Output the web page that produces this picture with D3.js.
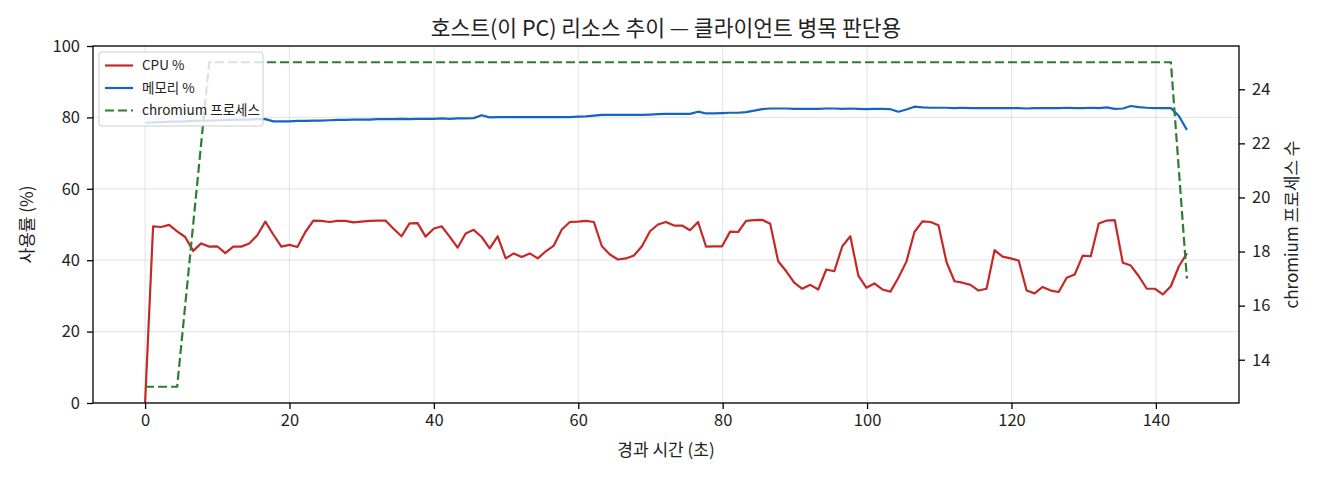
<!DOCTYPE html>
<html>
<head>
<meta charset="utf-8">
<script src="https://cdn.jsdelivr.net/npm/d3@7"></script>
<style>
  body { margin: 0; background: #fff; }
  text { font-family: "Noto Sans CJK KR", "Noto Sans", sans-serif; fill: #222; }
</style>
</head>
<body>
<div id="chart"></div>
<script>
// sampled roughly every 1.11 s
var SAMPLE_SEC = 1.11;

var cpu = [
  0, 49.5, 49.3, 49.9, 48.1, 46.5, 42.6, 44.7, 43.8, 43.9,
  42.0, 43.8, 43.8, 44.7, 47.0, 50.8, 47.2, 43.8, 44.3, 43.7,
  47.9, 51.1, 51.0, 50.7, 51.0, 51.0, 50.6, 50.8, 51.0, 51.1,
  51.1, 48.8, 46.7, 50.3, 50.4, 46.6, 48.8, 49.5, 46.6, 43.5,
  47.5, 48.5, 46.5, 43.3, 46.7, 40.5, 41.9, 40.9, 41.9, 40.5,
  42.5, 44.1, 48.6, 50.7, 50.8, 51.0, 50.7, 43.9, 41.6, 40.2,
  40.5, 41.3, 43.9, 48.1, 50.0, 50.7, 49.7, 49.7, 48.4, 50.7,
  43.8, 43.9, 43.9, 48.0, 47.9, 51.0, 51.2, 51.3, 50.2, 39.7,
  36.9, 33.7, 32.0, 33.1, 31.8, 37.4, 36.9, 43.9, 46.7, 35.7,
  32.3, 33.5, 31.8, 31.2, 35.1, 39.6, 47.9, 50.9, 50.7, 49.8,
  39.5, 34.1, 33.7, 33.1, 31.5, 32.0, 42.8, 41.0, 40.5, 39.9,
  31.5, 30.7, 32.5, 31.5, 31.1, 35.1, 36.0, 41.3, 41.1, 50.3,
  51.1, 51.2, 39.3, 38.5, 35.5, 32.0, 32.0, 30.4, 32.7, 38.3,
  41.9
];

var memory = [
  78.5, 78.6, 78.7, 78.8, 78.8, 78.9, 79.0, 79.1, 79.1, 79.2,
  79.3, 79.3, 79.4, 79.4, 79.5, 79.5, 78.9, 78.9, 78.9, 79.0,
  79.0, 79.1, 79.1, 79.2, 79.3, 79.3, 79.4, 79.4, 79.4, 79.5,
  79.5, 79.5, 79.6, 79.5, 79.6, 79.6, 79.6, 79.7, 79.6, 79.7,
  79.7, 79.8, 80.6, 80.0, 80.1, 80.1, 80.1, 80.1, 80.1, 80.1,
  80.1, 80.1, 80.1, 80.1, 80.2, 80.3, 80.5, 80.7, 80.7, 80.7,
  80.7, 80.7, 80.7, 80.8, 80.9, 81.0, 81.0, 81.0, 81.0, 81.6,
  81.1, 81.1, 81.2, 81.3, 81.3, 81.5, 81.9, 82.3, 82.5, 82.5,
  82.5, 82.4, 82.4, 82.4, 82.4, 82.5, 82.5, 82.4, 82.5, 82.4,
  82.3, 82.4, 82.4, 82.3, 81.6, 82.2, 83.0, 82.8, 82.7, 82.7,
  82.7, 82.6, 82.7, 82.6, 82.6, 82.6, 82.6, 82.6, 82.6, 82.6,
  82.5, 82.6, 82.6, 82.6, 82.6, 82.7, 82.6, 82.6, 82.7, 82.6,
  82.8, 82.4, 82.5, 83.2, 82.9, 82.7, 82.6, 82.6, 82.6, 80.4,
  76.5
];

var procs = [
  13, 13, 13, 13, 13, 16, 19, 22, 25, 25,
  25, 25, 25, 25, 25, 25, 25, 25, 25, 25,
  25, 25, 25, 25, 25, 25, 25, 25, 25, 25,
  25, 25, 25, 25, 25, 25, 25, 25, 25, 25,
  25, 25, 25, 25, 25, 25, 25, 25, 25, 25,
  25, 25, 25, 25, 25, 25, 25, 25, 25, 25,
  25, 25, 25, 25, 25, 25, 25, 25, 25, 25,
  25, 25, 25, 25, 25, 25, 25, 25, 25, 25,
  25, 25, 25, 25, 25, 25, 25, 25, 25, 25,
  25, 25, 25, 25, 25, 25, 25, 25, 25, 25,
  25, 25, 25, 25, 25, 25, 25, 25, 25, 25,
  25, 25, 25, 25, 25, 25, 25, 25, 25, 25,
  25, 25, 25, 25, 25, 25, 25, 25, 25, 21,
  17
];

var xTicks = [0, 20, 40, 60, 80, 100, 120, 140];
var yTicks = [0, 20, 40, 60, 80, 100];
var y2Ticks = [14, 16, 18, 20, 22, 24];

var seriesNames = ["CPU %", "메모리 %", "chromium 프로세스"];
var titleText = "호스트(이 PC) 리소스 추이 — 클라이언트 병목 판단용";
var xLabel = "경과 시간 (초)";
var yLabel = "사용률 (%)";
var y2Label = "chromium 프로세스 수";

var times = cpu.map(function(d, i) { return i * SAMPLE_SEC; });

// figure size and axes box
var W = 1320, H = 480;
var margin = {top: 46, right: 81, bottom: 77, left: 93};
var width = W - margin.left - margin.right,
    height = H - margin.top - margin.bottom;

var colors = {cpu: "#c62828", mem: "#1565c0", proc: "#2e7d32"};

var svg = d3.select("#chart").append("svg")
    .attr("width", W)
    .attr("height", H);

var g = svg.append("g")
    .attr("transform", "translate(" + margin.left + "," + margin.top + ")");

// matplotlib-style 5% padding on x and right y
var tMax = d3.max(times);
var x = d3.scaleLinear().domain([-0.05 * tMax, 1.05 * tMax]).range([0, width]);
var y = d3.scaleLinear().domain([0, 100]).range([height, 0]);
var pMin = d3.min(procs), pMax = d3.max(procs), pPad = (pMax - pMin) * 0.05;
var y2 = d3.scaleLinear().domain([pMin - pPad, pMax + pPad]).range([height, 0]);

// grid
g.append("g").selectAll("line").data(xTicks).enter().append("line")
    .attr("x1", function(d) { return x(d); }).attr("x2", function(d) { return x(d); })
    .attr("y1", 0).attr("y2", height)
    .attr("stroke", "#b0b0b0").attr("stroke-opacity", 0.3).attr("stroke-width", 1.2);
g.append("g").selectAll("line").data(yTicks).enter().append("line")
    .attr("y1", function(d) { return y(d); }).attr("y2", function(d) { return y(d); })
    .attr("x1", 0).attr("x2", width)
    .attr("stroke", "#b0b0b0").attr("stroke-opacity", 0.3).attr("stroke-width", 1.2);

g.append("clipPath").attr("id", "clip")
  .append("rect").attr("width", width).attr("height", height);

var line = function(vals, ys) {
  return d3.line()
    .x(function(d, i) { return x(times[i]); })
    .y(function(d) { return ys(d); })(vals);
};

var plot = g.append("g").attr("clip-path", "url(#clip)");

plot.append("path")
    .attr("d", line(cpu, y))
    .attr("fill", "none").attr("stroke", colors.cpu)
    .attr("stroke-width", 2.2).attr("stroke-linejoin", "round");

plot.append("path")
    .attr("d", line(memory, y))
    .attr("fill", "none").attr("stroke", colors.mem)
    .attr("stroke-width", 2.2).attr("stroke-linejoin", "round");

// legend (belongs to the left axes, so the twin line draws over it)
var legend = g.append("g").attr("transform", "translate(6,6)");
legend.append("rect")
    .attr("width", 164).attr("height", 74).attr("rx", 3)
    .attr("fill", "#fff").attr("fill-opacity", 0.8)
    .attr("stroke", "#cccccc").attr("stroke-width", 1);
var legendItems = [
  {name: seriesNames[0], color: colors.cpu, dash: null},
  {name: seriesNames[1], color: colors.mem, dash: null},
  {name: seriesNames[2], color: colors.proc, dash: "9,4"}
];
legendItems.forEach(function(it, i) {
  var yy = 13.5 + i * 22.5;
  legend.append("line")
      .attr("x1", 6).attr("x2", 34).attr("y1", yy).attr("y2", yy)
      .attr("stroke", it.color).attr("stroke-width", 2.2)
      .attr("stroke-dasharray", it.dash);
  legend.append("text")
      .attr("x", 43).attr("y", yy)
      .attr("dy", "0.35em")
      .style("font-size", "13.5px")
      .text(it.name);
});

plot.append("path")
    .attr("d", line(procs, y2))
    .attr("fill", "none").attr("stroke", colors.proc)
    .attr("stroke-width", 2.2).attr("stroke-dasharray", "9,4");

// axes
var fontSize = "16.5px";
var xAxis = g.append("g")
    .attr("transform", "translate(0," + height + ")")
    .call(d3.axisBottom(x).tickValues(xTicks).tickSize(6).tickPadding(5).tickFormat(d3.format("d")));
var yAxis = g.append("g")
    .call(d3.axisLeft(y).tickValues(yTicks).tickSize(6).tickPadding(7).tickFormat(d3.format("d")));
var y2Axis = g.append("g")
    .attr("transform", "translate(" + width + ",0)")
    .call(d3.axisRight(y2).tickValues(y2Ticks).tickSize(6).tickPadding(7).tickFormat(d3.format("d")));

[xAxis, yAxis, y2Axis].forEach(function(a) {
  a.select(".domain").remove();
  a.selectAll(".tick line").attr("stroke", "#000").attr("stroke-width", 1.3);
  a.selectAll(".tick text").style("font-size", fontSize).attr("fill", "#222");
});

// frame
g.append("rect")
    .attr("width", width).attr("height", height)
    .attr("fill", "none").attr("stroke", "#000").attr("stroke-width", 1.3);

// labels
svg.append("text")
    .attr("x", margin.left + width / 2).attr("y", 28)
    .attr("text-anchor", "middle").attr("dy", "0.35em")
    .style("font-size", "21.5px")
    .text(titleText);

svg.append("text")
    .attr("x", margin.left + width / 2).attr("y", 450)
    .attr("text-anchor", "middle").attr("dy", "0.35em")
    .style("font-size", "17px")
    .text(xLabel);

svg.append("text")
    .attr("transform", "translate(27," + (margin.top + height / 2) + ") rotate(-90)")
    .attr("text-anchor", "middle").attr("dy", "0.35em")
    .style("font-size", "17px")
    .text(yLabel);

svg.append("text")
    .attr("transform", "translate(1292," + (margin.top + height / 2) + ") rotate(-90)")
    .attr("text-anchor", "middle").attr("dy", "0.35em")
    .style("font-size", "17px")
    .text(y2Label);
</script>
</body>
</html>
